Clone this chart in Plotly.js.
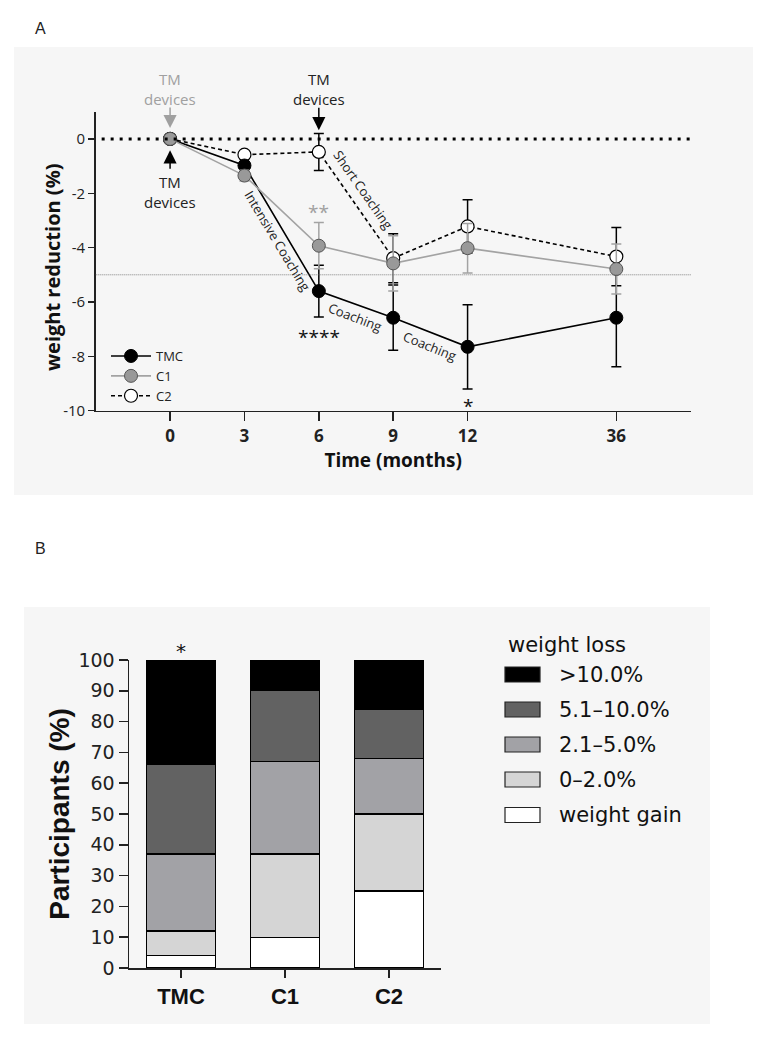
<!DOCTYPE html>
<html>
<head>
<meta charset="utf-8">
<script src="https://cdn.plot.ly/plotly-3.0.1.min.js"></script>
<style>
  body { margin: 0; background: #fff; }
  #plot { width: 767px; height: 1040px; }
</style>
</head>
<body>
<div id="plot"></div>
<script>
// Panel A: weight reduction over time
let months = [0, 3, 6, 9, 12, 36];
let tmc = [0, -0.98, -5.6, -6.58, -7.65, -6.58];
let tmcErr = [0, 0.15, 0.95, 1.2, 1.55, 1.8];
let c1 = [0, -1.35, -3.93, -4.58, -4.02, -4.79];
let c1Err = [0, 0.2, 0.85, 1.02, 0.91, 0.92];
let c2 = [0, -0.58, -0.48, -4.39, -3.22, -4.33];
let c2Err = [0, 0.1, 0.68, 0.9, 0.98, 1.07];
let yTicks = [0, -2, -4, -6, -8, -10];
let threshold = -5;

// Panel B: share of participants per weight loss class
let groups = ["TMC", "C1", "C2"];
let lossClasses = ["weight gain", "0–2.0%", "2.1–5.0%", "5.1–10.0%", ">10.0%"];
let weightGain = [4, 10, 25];
let loss0to2 = [8, 27, 25];
let loss2to5 = [25, 30, 18];
let loss5to10 = [29, 23, 16];
let lossOver10 = [34, 10, 16];

// axis has a gap between 12 and 36 months
let slot = months.map((m, i) => (i < 5 ? i : i + 1));

const W = 767, H = 1040;
const px = v => v / W;
const py = v => 1 - v / H;

let gray = "#a3a3a3";
let fA = "Open Sans";

function errs(arr, col) {
  return { type: "data", array: arr, visible: true, color: col, thickness: 1.5, width: 5 };
}

let traceC2 = {
  x: slot, y: c2, name: "C2", legendrank: 3,
  mode: "lines+markers", type: "scatter",
  line: { color: "#000", width: 1.6, dash: "4px,3px" },
  marker: { size: 13, color: "#fff", line: { color: "#000", width: 1.2 } },
  error_y: errs(c2Err, "#000")
};
let traceTMC = {
  x: slot, y: tmc, name: "TMC", legendrank: 1,
  mode: "lines+markers", type: "scatter",
  line: { color: "#000", width: 1.6 },
  marker: { size: 13, color: "#000", line: { color: "#000", width: 1 } },
  error_y: errs(tmcErr, "#000")
};
let traceC1 = {
  x: slot, y: c1, name: "C1", legendrank: 2,
  mode: "lines+markers", type: "scatter",
  line: { color: gray, width: 1.6 },
  marker: { size: 13, color: "#999", line: { color: "#555", width: 1 } },
  error_y: errs(c1Err, gray)
};

let barColors = ["#ffffff", "#d5d5d5", "#a2a2a6", "#626262", "#000000"];
let barSeries = [weightGain, loss0to2, loss2to5, loss5to10, lossOver10];
let bars = barSeries.map((vals, i) => ({
  x: groups, y: vals, name: lossClasses[i], type: "bar",
  xaxis: "x2", yaxis: "y2", showlegend: false,
  marker: { color: barColors[i], line: { color: "#000", width: 1.3 } }
}));

let data = [traceC2, traceTMC, traceC1].concat(bars);

let txt = (x, y, text, extra) => Object.assign({
  x: x, y: y, xref: "x", yref: "y", text: text, showarrow: false,
  xanchor: "center", yanchor: "middle",
  font: { family: fA, size: 15, color: "#222" }
}, extra || {});

let arrow = (x, y, ay, col) => ({
  x: x, y: y, xref: "x", yref: "y", text: "", showarrow: true,
  ax: 0, ay: ay, arrowhead: 2, arrowsize: 1.75, arrowwidth: 1.5, arrowcolor: col, standoff: 0
});

let paperTxt = (x, y, text, font, anchor) => ({
  x: px(x), y: py(y), xref: "paper", yref: "paper", text: text, showarrow: false,
  xanchor: anchor || "center", yanchor: "middle", font: font
});

let annotations = [
  txt(0, py(88.5), "TM<br>devices", { yref: "paper", font: { family: fA, size: 15, color: "#a0a0a0" } }),
  arrow(0, 0.4, -22, "#a0a0a0"),
  txt(0, -1.95, "TM<br>devices"),
  arrow(0, -0.42, 20, "#000"),
  txt(2, py(88.5), "TM<br>devices", { yref: "paper" }),
  arrow(2, 0.32, -24, "#000"),
  txt(2, -2.69, "**", { font: { family: fA, size: 19, color: "#a0a0a0" } }),
  txt(2, -7.28, "****", { font: { family: fA, size: 19, color: "#111" } }),
  txt(4, -9.83, "*", { font: { family: fA, size: 19, color: "#111" } }),
  txt(1.444, -3.77, "Intensive Coaching", { textangle: 59, font: { family: fA, size: 13, color: "#222" } }),
  txt(2.6, -1.88, "Short Coaching", { textangle: 55, font: { family: fA, size: 13, color: "#222" } }),
  txt(2.485, -6.57, "Coaching", { textangle: 21, font: { family: fA, size: 13, color: "#222" } }),
  txt(3.493, -7.61, "Coaching", { textangle: 22, font: { family: fA, size: 13, color: "#222" } }),
  // y title of panel A (sits a little below the axis centre in the original)
  Object.assign(paperTxt(52, 268, "<b>weight reduction (%)</b>", { family: fA, size: 20, color: "#111" }), { textangle: -90 }),
  // panel letters
  paperTxt(40, 28, "A", { family: "Liberation Sans", size: 16, color: "#222" }),
  paperTxt(40, 548, "B", { family: "Liberation Sans", size: 16, color: "#222" }),
  // significance star above TMC bar
  { x: "TMC", y: py(651), xref: "x2", yref: "paper", text: "*", showarrow: false,
    xanchor: "center", yanchor: "middle", font: { family: "DejaVu Sans", size: 20, color: "#111" } },
  // legend title for B
  paperTxt(506, 645, "weight loss", { family: "DejaVu Sans", size: 21, color: "#111" }, "left")
];

let shapes = [
  { type: "rect", xref: "paper", yref: "paper", x0: px(14), x1: px(753), y0: py(495), y1: py(47),
    fillcolor: "#f6f6f6", line: { width: 0 }, layer: "below" },
  { type: "rect", xref: "paper", yref: "paper", x0: px(24), x1: px(710), y0: py(1024), y1: py(607),
    fillcolor: "#f6f6f6", line: { width: 0 }, layer: "below" },
  { type: "line", xref: "x domain", yref: "y", x0: 0.01, x1: 1, y0: 0, y1: 0,
    line: { color: "#000", width: 3, dash: "3px,6px" } },
  { type: "line", xref: "x domain", yref: "y", x0: 0, x1: 1, y0: threshold, y1: threshold,
    line: { color: "#666", width: 0.8, dash: "1px,1px" } }
];

// manual legend for panel B (big swatches)
let rowY = [815, 779.5, 744.5, 709.5, 674.5];
lossClasses.forEach((name, i) => {
  shapes.push({ type: "rect", xref: "paper", yref: "paper",
    x0: px(505), x1: px(540), y0: py(rowY[i] + 7.5), y1: py(rowY[i] - 7.5),
    fillcolor: barColors[i], line: { color: "#222", width: 1.2 } });
  annotations.push(paperTxt(557, rowY[i], name, { family: "DejaVu Sans", size: 21, color: "#111" }, "left"));
});

let layout = {
  width: W, height: H,
  margin: { l: 0, r: 0, t: 0, b: 0 },
  paper_bgcolor: "#fff",
  plot_bgcolor: "rgba(0,0,0,0)",
  showlegend: true,
  legend: {
    x: px(106), y: py(341), xanchor: "left", yanchor: "top",
    traceorder: "normal", itemwidth: 40,
    bgcolor: "rgba(0,0,0,0)", font: { family: fA, size: 13, color: "#222" },
    tracegroupgap: 0
  },
  xaxis: {
    domain: [px(95.7), px(690.7)], range: [-1, 7],
    tickvals: slot, ticktext: months.map(String),
    ticks: "outside", ticklen: 9, tickwidth: 1.5, tickcolor: "#222",
    showline: true, linecolor: "#222", linewidth: 1.5, showgrid: false, zeroline: false,
    tickfont: { family: fA, size: 17, weight: 700, color: "#222" },
    title: { text: "Time (months)", standoff: 6, font: { family: fA, size: 19, weight: 700, color: "#111" } },
    anchor: "y"
  },
  yaxis: {
    domain: [py(410.7), py(111.7)], range: [-10, 1],
    tickvals: yTicks, ticktext: yTicks.map(String),
    ticks: "outside", ticklen: 6, tickwidth: 1.5, tickcolor: "#222",
    showline: true, linecolor: "#222", linewidth: 1.5, showgrid: false, zeroline: false,
    tickfont: { family: fA, size: 15, color: "#222" },
    anchor: "x"
  },
  xaxis2: {
    domain: [px(129), px(441)], range: [-0.5, 2.5],
    ticks: "outside", ticklen: 8, tickwidth: 1.5, tickcolor: "#222",
    showline: true, linecolor: "#222", linewidth: 1.5, showgrid: false, zeroline: false,
    tickfont: { family: "Liberation Sans", size: 22, weight: 700, color: "#111" },
    anchor: "y2"
  },
  yaxis2: {
    domain: [py(968), py(660)], range: [0, 100],
    tickvals: [0, 10, 20, 30, 40, 50, 60, 70, 80, 90, 100],
    ticks: "outside", ticklen: 9, tickwidth: 1.5, tickcolor: "#222",
    showline: true, linecolor: "#222", linewidth: 1.5, showgrid: false, zeroline: false,
    tickfont: { family: "DejaVu Sans", size: 19, color: "#222" },
    title: { text: "Participants (%)", standoff: 0, font: { family: "Liberation Sans", size: 28, weight: 700, color: "#111" } },
    anchor: "x2"
  },
  barmode: "stack",
  bargap: 0.33,
  annotations: annotations,
  shapes: shapes
};

Plotly.newPlot("plot", data, layout, { staticPlot: true });
</script>
</body>
</html>
